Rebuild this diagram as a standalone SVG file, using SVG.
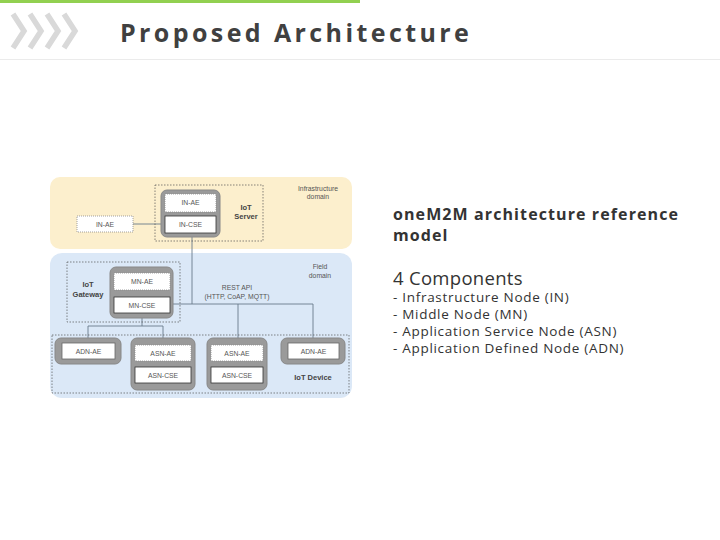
<svg xmlns="http://www.w3.org/2000/svg" width="720" height="540" viewBox="0 0 720 540">
<style>
.gray{fill:#9a9a9a;stroke:#888;stroke-width:1}
.ae{fill:#fff;stroke:#8a8a8a;stroke-width:0.8;stroke-dasharray:1 1}
.cse{fill:#fff;stroke:#333;stroke-width:0.8}
.adn{fill:#fff;stroke:#666;stroke-width:0.8}
.dash{fill:none;stroke:#555;stroke-width:0.7;stroke-dasharray:1.5 1.5}
.t{font-family:"Liberation Sans",Arial,sans-serif;font-size:6.8px;fill:#555;text-anchor:middle}
.b{font-family:"Liberation Sans",Arial,sans-serif;font-size:7.5px;font-weight:bold;fill:#444;text-anchor:middle}
.c{stroke:#6a7a8a;stroke-width:0.9;fill:none}
.rt{font-family:"Open Sans","Noto Sans",sans-serif;fill:#333}
</style>
<rect width="720" height="540" fill="#fff"/>
<rect x="0" y="0" width="360" height="3" fill="#92d050"/>
<line x1="0" y1="59.5" x2="720" y2="59.5" stroke="#ebebeb" stroke-width="1"/>
<g fill="none" stroke="#d9d9d9" stroke-width="5.5">
<polyline points="13,14 24,31 13,48"/>
<polyline points="30,14 41,31 30,48"/>
<polyline points="47,14 58,31 47,48"/>
<polyline points="64,14 75,31 64,48"/>
</g>
<text x="120" y="42" font-family="Open Sans,'Noto Sans',sans-serif" font-size="25" font-weight="bold" letter-spacing="3.4" fill="#404040">Proposed Architecture</text>

<!-- domains -->
<rect id="infra-domain" x="50" y="177" width="302" height="72" rx="10" fill="#fcefcd"/>
<rect id="field-domain" x="50" y="253" width="302" height="145" rx="12" fill="#dbe8f7"/>
<text class="t" x="318" y="191">Infrastructure</text>
<text class="t" x="318" y="199">domain</text>
<text class="t" x="320" y="269">Field</text>
<text class="t" x="320" y="278">domain</text>

<!-- connectors -->
<g id="connectors">
<path class="c" d="M133,224 H165"/>
<path class="c" d="M192,233 V304"/>
<path class="c" d="M170,304 H313 V338"/>
<path class="c" d="M238,304 V338"/>
<path class="c" d="M142,290 V297"/>
<path class="c" d="M142,318 V326"/>
<path class="c" d="M88,338 V326 H163 V338"/>
<path class="c" d="M163,361 V367"/>
<path class="c" d="M237,361 V367"/>
</g>
<text class="t" x="237" y="290" font-size="7.5">REST API</text>
<text class="t" x="237" y="299" font-size="7.5">(HTTP, CoAP, MQTT)</text>

<g id="iot-server">
<rect class="dash" x="155" y="185" width="108" height="56"/>
<rect class="gray" x="161" y="190" width="59" height="47" rx="6"/>
<rect class="ae" x="165" y="194" width="51" height="18"/>
<text class="t" x="190.5" y="205">IN-AE</text>
<rect class="cse" x="165" y="216" width="51" height="17"/>
<text class="t" x="190.5" y="227">IN-CSE</text>
<text class="b" x="246" y="210">IoT</text>
<text class="b" x="246" y="219">Server</text>
</g>
<g id="in-ae-left">
<rect class="ae" x="77" y="216" width="56" height="16"/>
<text class="t" x="105" y="227">IN-AE</text>
</g>

<g id="iot-gateway">
<rect class="dash" x="67" y="262" width="113" height="60"/>
<rect class="gray" x="110" y="267" width="63" height="51" rx="6"/>
<rect class="ae" x="114" y="273" width="56" height="17"/>
<text class="t" x="142" y="284">MN-AE</text>
<rect class="cse" x="114" y="297" width="56" height="16"/>
<text class="t" x="142" y="308">MN-CSE</text>
<text class="b" x="88" y="287">IoT</text>
<text class="b" x="88" y="297">Gateway</text>
</g>

<g id="iot-device">
<rect class="dash" x="52" y="335" width="297" height="58"/>
<text class="b" x="313" y="380">IoT Device</text>
</g>
<g id="adn-left">
<rect class="gray" x="55" y="338" width="66" height="26" rx="6"/>
<rect class="adn" x="62" y="343" width="53" height="16"/>
<text class="t" x="88.5" y="354">ADN-AE</text>
</g>
<g id="asn-1">
<rect class="gray" x="131" y="338" width="64" height="52" rx="6"/>
<rect class="ae" x="135" y="345" width="56" height="16"/>
<text class="t" x="163" y="356">ASN-AE</text>
<rect class="cse" x="135" y="367" width="56" height="16"/>
<text class="t" x="163" y="378">ASN-CSE</text>
</g>
<g id="asn-2">
<rect class="gray" x="207" y="338" width="60" height="52" rx="6"/>
<rect class="ae" x="211" y="345" width="52" height="16"/>
<text class="t" x="237" y="356">ASN-AE</text>
<rect class="cse" x="211" y="367" width="52" height="16"/>
<text class="t" x="237" y="378">ASN-CSE</text>
</g>
<g id="adn-right">
<rect class="gray" x="281" y="338" width="64" height="26" rx="6"/>
<rect class="adn" x="288" y="343" width="51" height="16"/>
<text class="t" x="313.5" y="354">ADN-AE</text>
</g>

<g id="description">
<text class="rt" x="393" y="220" font-size="16" font-weight="bold" letter-spacing="1.1">oneM2M architecture reference</text>
<text class="rt" x="393" y="241" font-size="16" font-weight="bold" letter-spacing="1.1">model</text>
<text class="rt" x="393" y="285" font-size="18.5" letter-spacing="0.3">4 Components</text>
<text class="rt" x="393" y="302" font-size="13.5" letter-spacing="0.7">- Infrastructure Node (IN)</text>
<text class="rt" x="393" y="319" font-size="13.5" letter-spacing="0.7">- Middle Node (MN)</text>
<text class="rt" x="393" y="336" font-size="13.5" letter-spacing="0.7">- Application Service Node (ASN)</text>
<text class="rt" x="393" y="353" font-size="13.5" letter-spacing="0.7">- Application Defined Node (ADN)</text>
</g>
</svg>
